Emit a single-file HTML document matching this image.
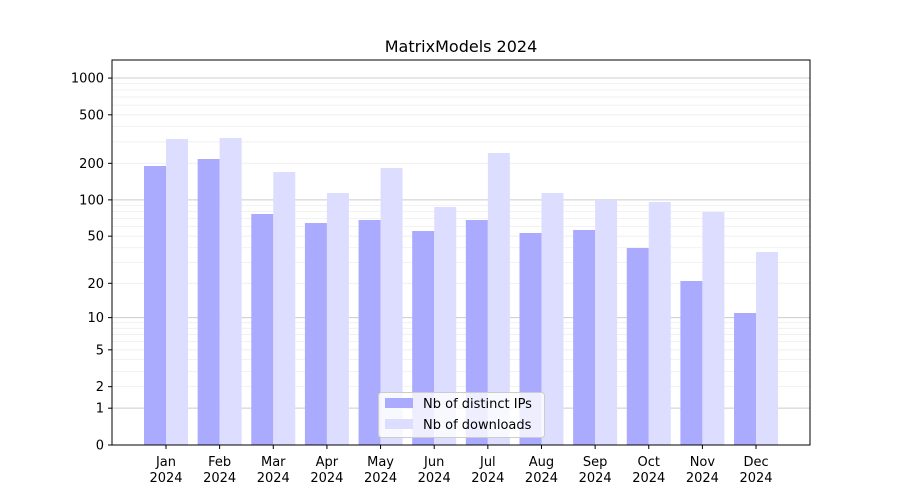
<!DOCTYPE html>
<html><head><meta charset="utf-8"><style>
body{margin:0;background:#fff;}
svg{display:block;font-family:"DejaVu Sans","Liberation Sans",sans-serif;}
</style></head><body>
<svg id="s" width="900" height="500" xmlns="http://www.w3.org/2000/svg">
<rect width="900" height="500" fill="#fff"/>
<g id="grid"></g>
<g id="bars"></g>
<rect x="112" y="60" width="698" height="385" fill="none" stroke="#000" stroke-width="1"/>
<text x="461" y="52" font-size="16" text-anchor="middle">MatrixModels 2024</text>
<g id="ax" font-size="13"></g>
<g>
<rect x="378.5" y="392.5" width="166" height="45" rx="3" fill="#fff" fill-opacity="0.8" stroke="#ccc"/>
<rect x="385" y="398" width="28" height="10" fill="#aaaaff"/>
<text x="423" y="408" font-size="13">Nb of distinct IPs</text>
<rect x="385" y="419" width="28" height="10" fill="#ddddff"/>
<text x="423" y="429" font-size="13">Nb of downloads</text>
</g>
</svg>
<script>
const NS="http://www.w3.org/2000/svg";
function el(p,t,a,txt){const e=document.createElementNS(NS,t);for(const k in a)e.setAttribute(k,a[k]);if(txt!=null)e.textContent=txt;p.appendChild(e);return e;}
const Y=v=>445-122.3*Math.log10(1+v);
const g=document.getElementById('grid'),ax=document.getElementById('ax'),b=document.getElementById('bars');
for(const d of [1,10,100,1000])for(let m=2;m<=9;m++){const y=Y(d*m);if(y>60)el(g,'line',{x1:112,x2:810,y1:y,y2:y,stroke:'#eeeeee','stroke-width':0.8});}
for(const v of [1,10,100,1000]){const y=Y(v);el(g,'line',{x1:112,x2:810,y1:y,y2:y,stroke:'#cccccc','stroke-width':1});}
for(const v of [0,1,2,5,10,20,50,100,200,500,1000]){const y=Y(v);el(ax,'line',{x1:108,x2:112,y1:y,y2:y,stroke:'#000'});el(ax,'text',{x:104,y:y+4.5,'text-anchor':'end'},v);}
const bt=[166,159,214,223,220,231,220,233,230,248,281,313];
const lt=[139,138,172,193,168,207,153,193,200,202,212,252];
const mo=['Jan','Feb','Mar','Apr','May','Jun','Jul','Aug','Sep','Oct','Nov','Dec'];
for(let i=0;i<12;i++){const c=166+i*53.64;
el(b,'rect',{x:c-22,y:bt[i],width:22,height:445-bt[i],fill:'#aaaaff'});
el(b,'rect',{x:c,y:lt[i],width:22,height:445-lt[i],fill:'#ddddff'});
el(ax,'line',{x1:c,x2:c,y1:445,y2:449,stroke:'#000'});
el(ax,'text',{x:c,y:466,'text-anchor':'middle'},mo[i]);
el(ax,'text',{x:c,y:482,'text-anchor':'middle'},'2024');}
</script>
</body></html>
